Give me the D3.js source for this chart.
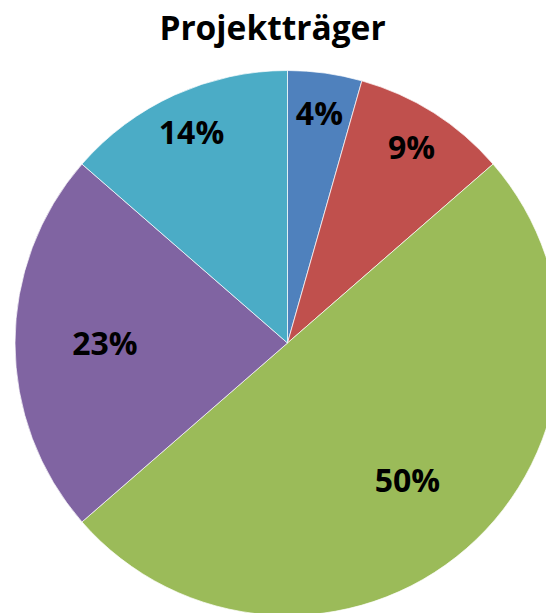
<!DOCTYPE html>
<html>
<head>
<meta charset="utf-8">
<script src="https://cdn.jsdelivr.net/npm/d3@7"></script>
<style>
  html, body { margin: 0; padding: 0; background: #fff; }
  svg { display: block; }
</style>
</head>
<body>
<svg id="chart" width="546" height="613"></svg>
<script>
const title = "Projektträger";
const categories = ["A", "B", "C", "D", "E"];
const values = [4.4, 9.2, 50.0, 22.8, 13.6];
const labels = ["4%", "9%", "50%", "23%", "14%"];
const colors = ["#4F81BD", "#C0504D", "#9BBB59", "#8064A2", "#4BACC6"];

const W = 546, H = 613;
const cx = 287.5, cy = 343, r = 272.5;
const svg = d3.select("#chart");

svg.append("text")
  .attr("x", 272.5).attr("y", 40)
  .attr("text-anchor", "middle")
  .attr("font-family", "'Open Sans', sans-serif")
  .attr("font-weight", "bold")
  .attr("font-size", 33.5)
  .attr("fill", "#000")
  .text(title);

const color = d3.scaleOrdinal().domain(categories).range(colors);
const pie = d3.pie().sort(null).value(d => d.value);
const data = categories.map((c, i) => ({ cat: c, value: values[i], label: labels[i] }));
const arcs = pie(data);
const arc = d3.arc().innerRadius(0).outerRadius(r);
const total = d3.sum(values);

const g = svg.append("g").attr("transform", `translate(${cx},${cy})`);
g.selectAll("path").data(arcs).enter().append("path")
  .attr("d", arc)
  .attr("fill", d => color(d.data.cat))
  .attr("stroke", "#fff")
  .attr("stroke-width", 0.7);

g.selectAll("text.lbl").data(arcs).enter().append("text")
  .attr("class", "lbl")
  .attr("transform", d => {
    const frac = d.data.value / total;
    const lr = r * (frac > 0.2 ? 0.67 : 0.85);
    const a = (d.startAngle + d.endAngle) / 2;
    return `translate(${Math.sin(a) * lr},${-Math.cos(a) * lr})`;
  })
  .attr("text-anchor", "middle")
  .attr("dy", "0.36em")
  .attr("font-family", "'Open Sans', sans-serif")
  .attr("font-weight", "bold")
  .attr("font-size", 32)
  .attr("fill", "#000")
  .text(d => d.data.label);
</script>
</body>
</html>
